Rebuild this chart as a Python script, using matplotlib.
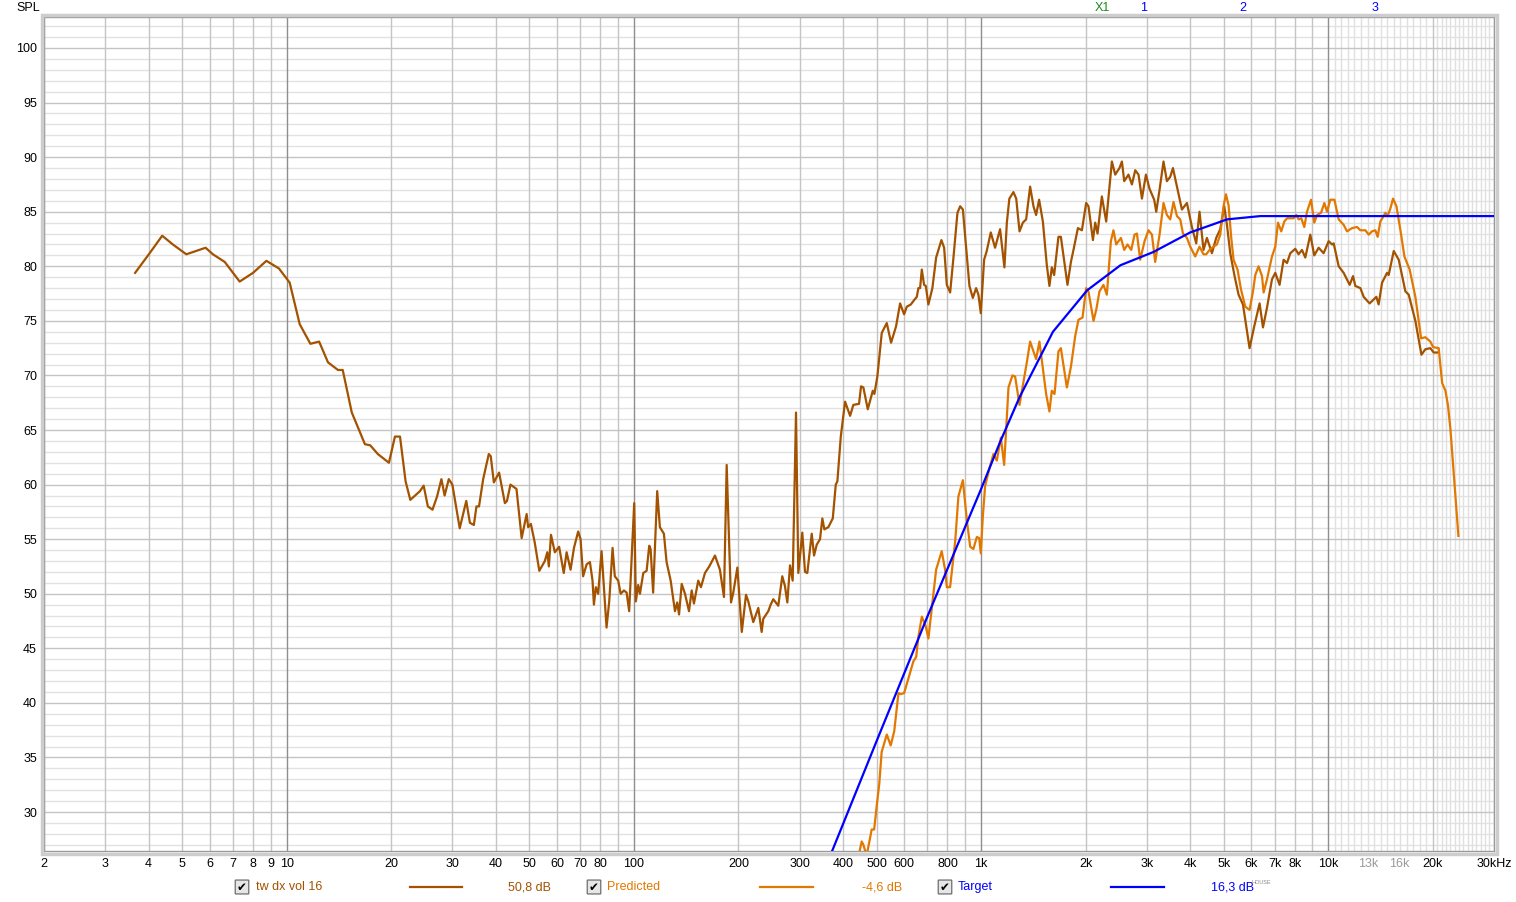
import numpy as np
import matplotlib
matplotlib.use('Agg')
import matplotlib.pyplot as plt
from matplotlib.patches import FancyBboxPatch, Rectangle
from matplotlib.lines import Line2D

plt.rcParams['font.family'] = ['Liberation Sans', 'DejaVu Sans']

# ---------------- data ----------------
meas_freq = [3.66, 4.03, 4.38, 4.70, 5.14, 5.84, 6.13, 6.63, 7.32, 8.0,
             8.74, 9.5, 10.2, 10.9, 11.7, 12.4, 13.15, 14.05, 14.5, 15.4,
             16.8, 17.4, 18.3, 19.7, 20.5, 21.2, 22.0, 22.7,
             24.2, 24.8, 25.5, 26.3, 27.1, 27.9, 28.5, 29.3, 30.0, 31.5,
             32.9, 33.7, 34.6, 35.2, 35.8, 36.8, 38.2, 38.7, 39.5, 40.9,
             42.5, 43.1, 44.1, 45.9, 47.5, 49.1, 49.6, 50.5, 51.8, 53.4,
             55.4, 56.3, 56.9, 57.7, 59.2, 60.9, 62.8, 64.0, 65.7, 67.2,
             69.1, 70.2, 71.4, 73.1, 74.7, 76.0, 76.7, 77.7, 78.9, 80.7,
             83.4, 84.9, 86.8, 88.1, 90.1, 91.6, 93.6, 95.3, 96.9, 100.2,
             101.3, 102.9, 104.1, 106.4, 108.8, 110.7, 111.7, 113.6, 116.7, 118.8,
             122.0, 124.2, 127.6, 131.3, 133.3, 134.9, 137.3, 140.3, 144.1, 146.7,
             148.9, 153.2, 156.0, 160.2, 164.8, 171.2, 176.9, 181.7, 185.0, 190.4,
             193.3, 198.6, 204.5, 210.3, 213.5, 220.7, 228.2, 233.3, 235.8, 243.8,
             247.7, 252.0, 260.5, 267.5, 272.3, 276.6, 281.6, 286.6, 293.0, 297.5,
             305.5, 311.0, 315.8, 325.2, 330.2, 336.2, 343.6, 348.9, 353.6, 363.1,
             373.9, 381.4, 385.5, 394.3, 405.7, 419.4, 428.5, 445.0, 451.0, 458.0,
             471.6, 487.5, 492.7, 502.5, 517.4, 534.9, 550.4, 568.9, 584.3, 600.0,
             610.9, 627.3, 641.2, 652.8, 659.7, 667.2, 674.8, 685.1, 692.9, 704.9,
             723.8, 742.0, 768.5, 782.5, 796.5, 814.3, 832.4, 854.7, 870.3, 886.0,
             903.6, 925.4, 946.5, 967.4, 982.2, 997.9, 1020, 1038, 1066, 1097,
             1134, 1167, 1186, 1206, 1239, 1262, 1290, 1319, 1348, 1384,
             1415, 1440, 1469, 1506, 1546, 1573, 1598, 1623, 1670, 1697,
             1773, 1814, 1845, 1900, 1951, 2007, 2038, 2099, 2131, 2164,
             2227, 2292, 2380, 2433, 2503, 2544, 2583, 2657, 2718, 2779,
             2840, 2905, 2983, 3055, 3151, 3194, 3265, 3352, 3428, 3505,
             3568, 3664, 3787, 3915, 4047, 4164, 4256, 4370, 4470, 4621,
             4754, 4883, 5014, 5105, 5218, 5370, 5514, 5677, 5931, 6118,
             6339, 6483, 6657, 6881, 7035, 7237, 7432, 7603, 7771, 8032,
             8209, 8397, 8583, 8872, 9110, 9376, 9692, 10020, 10250, 10360,
             10710, 11070, 11520, 11780, 11960, 12370, 12640, 13150, 13450, 13750,
             13960, 14280, 14760, 14920, 15430, 15950, 16670, 17040, 17810, 18540,
             19030, 19670, 20110, 20650]
meas_spl = [79.4, 81.2, 82.8, 82.0, 81.1, 81.7, 81.1, 80.4, 78.6, 79.4,
            80.5, 79.8, 78.5, 74.7, 72.9, 73.1, 71.2, 70.5, 70.5, 66.6,
            63.7, 63.6, 62.8, 62.0, 64.4, 64.4, 60.3, 58.6,
            59.4, 59.9, 58.0, 57.7, 58.9, 60.5, 59.0, 60.5, 60.0, 56.0,
            58.5, 56.5, 56.3, 58.0, 58.0, 60.5, 62.8, 62.6, 60.2, 61.1,
            58.3, 58.5, 60.0, 59.6, 55.1, 57.3, 56.1, 56.4, 54.7, 52.1,
            53.0, 53.8, 52.5, 55.4, 53.8, 54.3, 51.9, 53.8, 52.2, 54.2,
            55.7, 55.0, 51.6, 52.7, 52.9, 51.2, 49.0, 50.6, 50.0, 53.9,
            46.9, 49.3, 54.2, 51.6, 51.2, 50.0, 50.3, 50.1, 48.4, 58.3,
            49.3, 50.8, 50.0, 51.9, 52.1, 54.4, 54.1, 50.1, 59.4, 56.1,
            55.5, 52.9, 51.2, 48.4, 49.2, 48.1, 50.9, 50.0, 48.4, 50.3,
            49.1, 51.2, 50.6, 51.9, 52.5, 53.5, 52.2, 49.7, 61.8, 49.2,
            50.1, 52.4, 46.5, 49.9, 49.3, 47.4, 48.7, 46.5, 47.7, 48.4,
            49.0, 49.5, 48.9, 51.6, 50.7, 49.2, 52.6, 51.2, 66.6, 51.9,
            55.6, 52.0, 51.9, 55.5, 53.5, 54.5, 55.0, 56.9, 55.9, 56.1,
            56.9, 60.0, 60.3, 64.4, 67.6, 66.3, 67.3, 67.4, 69.0, 68.9,
            66.9, 68.6, 68.3, 69.9, 73.9, 74.8, 73.0, 74.5, 76.6, 75.6,
            76.3, 76.5, 76.9, 77.2, 78.0, 78.0, 79.7, 78.3, 78.2, 76.5,
            78.0, 80.8, 82.4, 81.7, 78.3, 77.6, 80.8, 84.9, 85.5, 85.2,
            82.0, 78.2, 77.1, 78.0, 77.4, 75.7, 80.6, 81.4, 83.1, 81.7,
            83.4, 79.9, 84.0, 86.2, 86.8, 86.2, 83.2, 84.0, 84.3, 87.3,
            85.5, 84.7, 86.1, 84.1, 80.1, 78.2, 79.9, 79.2, 82.7, 82.7,
            78.3, 80.4, 81.5, 83.5, 83.3, 85.8, 85.5, 82.4, 84.0, 83.0,
            86.4, 84.1, 89.6, 88.4, 89.0, 89.6, 87.8, 88.4, 87.5, 88.8,
            88.4, 86.2, 88.4, 87.1, 86.1, 85.0, 87.0, 89.6, 87.8, 88.2,
            89.0, 87.3, 85.2, 85.8, 83.6, 82.1, 85.0, 81.5, 82.6, 81.2,
            82.6, 83.4, 85.5, 83.8, 81.2, 79.1, 77.4, 76.5, 72.5, 74.5,
            76.6, 74.4, 76.2, 78.8, 79.4, 78.3, 80.6, 80.3, 81.2, 81.6,
            81.1, 81.5, 80.8, 82.9, 81.0, 81.7, 81.2, 82.3, 82.0, 82.1,
            80.0, 79.4, 78.3, 79.1, 78.2, 78.0, 77.2, 76.6, 76.9, 77.2,
            76.5, 78.5, 79.4, 79.2, 81.4, 80.6, 77.7, 77.4, 75.0, 71.9,
            72.4, 72.5, 72.1, 72.1]

pred_freq = [430, 448, 453, 458, 468, 484, 492, 500.5, 509, 517,
             535, 549, 562, 578, 587, 600, 617, 638, 650, 660,
             675, 693, 705, 721, 742, 770, 787.5, 796.5, 814, 842,
             860, 886, 910, 930, 950, 972, 987, 998, 1011, 1027,
             1057, 1085, 1110, 1122, 1140, 1165, 1199, 1231, 1253, 1290,
             1354, 1384, 1440, 1472, 1539, 1573, 1598, 1627, 1670, 1697,
             1766, 1814, 1866, 1907, 1959, 2007, 2038, 2107, 2145, 2192,
             2251, 2302, 2364, 2405, 2449, 2527, 2583, 2640, 2706, 2766,
             2810, 2872, 2956, 3034, 3104, 3172, 3265, 3352, 3428, 3505,
             3582, 3664, 3745, 3813, 3915, 4002, 4137, 4256, 4370, 4450,
             4549, 4670, 4776, 4883, 4991, 5071, 5160, 5253, 5333, 5477,
             5602, 5764, 5931, 6067, 6160, 6296, 6441, 6510, 6657, 6881,
             7035, 7161, 7319, 7467, 7603, 7771, 7943, 8087, 8209, 8358,
             8526, 8681, 8915, 9110, 9277, 9528, 9739, 9915, 10130, 10410,
             10710, 11070, 11320, 11700, 12100, 12370, 12780, 13070, 13360, 13660,
             13870, 14120, 14600, 14820, 15090, 15360, 15710, 16130, 16560, 17150,
             17810, 18500, 19030, 19670, 20030, 20790, 21270, 21740, 22100, 22470,
             22920, 23380, 23690]
pred_spl = [23.5, 26.6, 27.3, 27.0, 26.0, 28.4, 28.4, 30.6, 32.6, 35.5,
            37.1, 36.1, 37.4, 40.9, 40.8, 40.9, 42.2, 43.8, 44.2, 46.1,
            47.9, 47.0, 45.9, 48.7, 52.2, 53.9, 52.2, 50.6, 50.6, 54.8,
            58.9, 60.4, 56.7, 54.3, 54.1, 55.2, 55.1, 53.7, 57.0, 59.9,
            61.5, 62.8, 62.2, 63.1, 64.3, 61.8, 68.9, 70.0, 69.9, 67.3,
            71.2, 73.1, 71.5, 73.1, 68.3, 66.7, 68.6, 68.3, 72.2, 72.5,
            68.9, 70.8, 73.6, 75.1, 75.3, 78.0, 77.7, 75.0, 76.0, 77.7,
            78.3, 77.4, 82.3, 83.3, 82.0, 82.6, 81.5, 82.0, 81.5, 82.9,
            83.0, 80.6, 82.3, 83.3, 82.9, 80.4, 82.9, 85.8, 84.7, 84.3,
            85.9, 84.6, 84.3, 83.0, 82.6, 81.8, 80.9, 81.8, 81.1, 81.1,
            81.5, 81.8, 82.0, 82.9, 85.5, 86.6, 85.6, 82.6, 80.6, 79.7,
            77.9, 76.3, 76.0, 77.7, 79.2, 80.0, 79.1, 77.6, 78.8, 80.9,
            81.8, 84.0, 83.2, 84.1, 84.4, 84.4, 84.4, 84.7, 84.3, 84.4,
            83.6, 85.0, 86.1, 84.0, 84.7, 84.9, 85.8, 85.0, 86.1, 86.1,
            84.3, 83.8, 83.2, 83.5, 83.6, 83.3, 83.3, 82.9, 83.2, 83.3,
            82.7, 84.1, 84.9, 84.6, 85.3, 86.2, 85.5, 83.3, 80.9, 79.7,
            77.2, 73.4, 73.5, 73.1, 72.6, 72.5, 69.3, 68.6, 67.3, 65.1,
            61.4, 57.7, 55.3]

target_freq = [300, 372, 500, 700, 1000, 1134, 1290, 1610, 2020, 2520,
               3130, 4000, 5110, 6370, 30000]
target_spl = [19.1, 26.4, 36.5, 47.9, 59.6, 63.9, 68.0, 74.0, 77.8, 80.1,
              81.3, 83.1, 84.3, 84.6, 84.6]

x_tick_values = [2, 3, 4, 5, 6, 7, 8, 9, 10, 20, 30, 40, 50, 60, 70, 80, 100,
                 200, 300, 400, 500, 600, 800, 1000, 2000, 3000, 4000, 5000,
                 6000, 7000, 8000, 10000, 13000, 16000, 20000, 30000]
x_tick_labels = ['2', '3', '4', '5', '6', '7', '8', '9', '10', '20', '30', '40',
                 '50', '60', '70', '80', '100', '200', '300', '400', '500', '600',
                 '800', '1k', '2k', '3k', '4k', '5k', '6k', '7k', '8k', '10k',
                 '13k', '16k', '20k', '30kHz']
y_tick_values = list(range(30, 101, 5))

series_names = ['tw dx vol 16', 'Predicted', 'Target']
series_offsets = ['50,8 dB', '-4,6 dB', '16,3 dB']

# ---------------- style ----------------
C_MEAS = '#A35200'
C_PRED = '#E27800'
C_TGT = '#0000FF'

W, H = 1516, 902
fig = plt.figure(figsize=(W / 100, H / 100), dpi=100)
fig.patch.set_facecolor('white')

L, R, T, B = 44, 1494, 17, 851
ax = fig.add_axes([L / W, 1 - B / H, (R - L) / W, (B - T) / H])
ax.set_xscale('log')
ax.set_xlim(2, 30000)
ax.set_ylim(26.43, 102.84)

# grid
for v in range(27, 103):
    ax.axhline(v, color='#c4c4c4' if v % 5 == 0 else '#e2e2e2', lw=1.0,
               zorder=0.5 if v % 5 == 0 else 0.3)
for d in [1, 10, 100, 1000, 10000]:
    for m in range(1, 10):
        f = m * d
        if 2 <= f <= 30000:
            if m == 1:
                ax.axvline(f, color='#8e8e8e', lw=1.0, zorder=0.6)
            else:
                ax.axvline(f, color='#c4c4c4', lw=1.0, zorder=0.5)
# fine grid above 10 kHz
fine_a = 10000 * 2 ** (np.arange(1, 16) / 16.0)
fine_b = 20000 * 2 ** (np.arange(1, 14) / 24.0)
for f in np.concatenate([fine_a, fine_b]):
    if f < 29900:
        ax.axvline(f, color='#e0e0e0', lw=1.0, zorder=0.3)

ax.plot(meas_freq, meas_spl, color=C_MEAS, lw=1.6, zorder=3, solid_joinstyle='round')
ax.plot(pred_freq, pred_spl, color=C_PRED, lw=1.6, zorder=4, solid_joinstyle='round')
ax.plot(target_freq, target_spl, color=C_TGT, lw=1.6, zorder=5)

ax.set_xticks(x_tick_values)
ax.set_xticklabels(x_tick_labels)
ax.set_xticks([], minor=True)
ax.set_yticks(y_tick_values)
ax.set_yticklabels([str(v) for v in y_tick_values])
ax.tick_params(axis='both', length=0, labelsize=9, colors='black')
ax.tick_params(axis='x', pad=5)
ax.tick_params(axis='y', pad=5)
for lab in ax.get_xticklabels():
    if lab.get_text() in ('13k', '16k'):
        lab.set_color('#9a9a9a')

for s in ax.spines.values():
    s.set_color('#9a9a9a')
    s.set_linewidth(1.0)

# outer 3D-ish frame
fig.add_artist(Rectangle(((L - 2.5) / W, 1 - (B + 2.5) / H), (R - L + 5) / W, (B - T + 5) / H,
                         transform=fig.transFigure, fill=False, edgecolor='#cdcdcd', lw=2.5, zorder=1))


def fx(x):
    return x / W


def fy(y):
    return 1 - y / H


fig.text(fx(28), fy(8), 'SPL', ha='center', va='center', fontsize=9)
fig.text(fx(1102), fy(8), 'X1', ha='center', va='center', fontsize=9, color='#1a8a1a')
fig.text(fx(1144), fy(8), '1', ha='center', va='center', fontsize=9, color='#0000ff')
fig.text(fx(1243), fy(8), '2', ha='center', va='center', fontsize=9, color='#0000ff')
fig.text(fx(1375), fy(8), '3', ha='center', va='center', fontsize=9, color='#0000ff')

# legend row
ly = 887
entries = [
    (242, 256, (410, 462), 508, C_MEAS, C_MEAS),
    (594, 607, (760, 813), 862, C_PRED, C_PRED),
    (945, 958, (1111, 1164), 1211, C_TGT, C_TGT),
]
for i, (cbx, tx, (l0, l1), ox, tcol, lcol) in enumerate(entries):
    box = FancyBboxPatch((fx(cbx - 6), fy(ly + 6.5)), 12 / W, 13 / H,
                         boxstyle='round,pad=0.0005', transform=fig.transFigure,
                         facecolor='#e6e6e6', edgecolor='#6e6e6e', lw=0.9)
    fig.add_artist(box)
    fig.text(fx(cbx), fy(ly), '\u2714', ha='center', va='center', fontsize=8.5,
             color='black', family='DejaVu Sans')
    fig.text(fx(tx), fy(ly), series_names[i], ha='left', va='center', fontsize=9, color=tcol)
    fig.add_artist(Line2D([fx(l0), fx(l1)], [fy(ly), fy(ly)], transform=fig.transFigure,
                          color=lcol, lw=1.6))
    fig.text(fx(ox), fy(ly), series_offsets[i], ha='left', va='center', fontsize=9, color=tcol)

fig.text(fx(1252), fy(883), 'HOUSE', ha='left', va='center', fontsize=4, color='#888888')

fig.savefig('out.png', dpi=100, facecolor='white')
